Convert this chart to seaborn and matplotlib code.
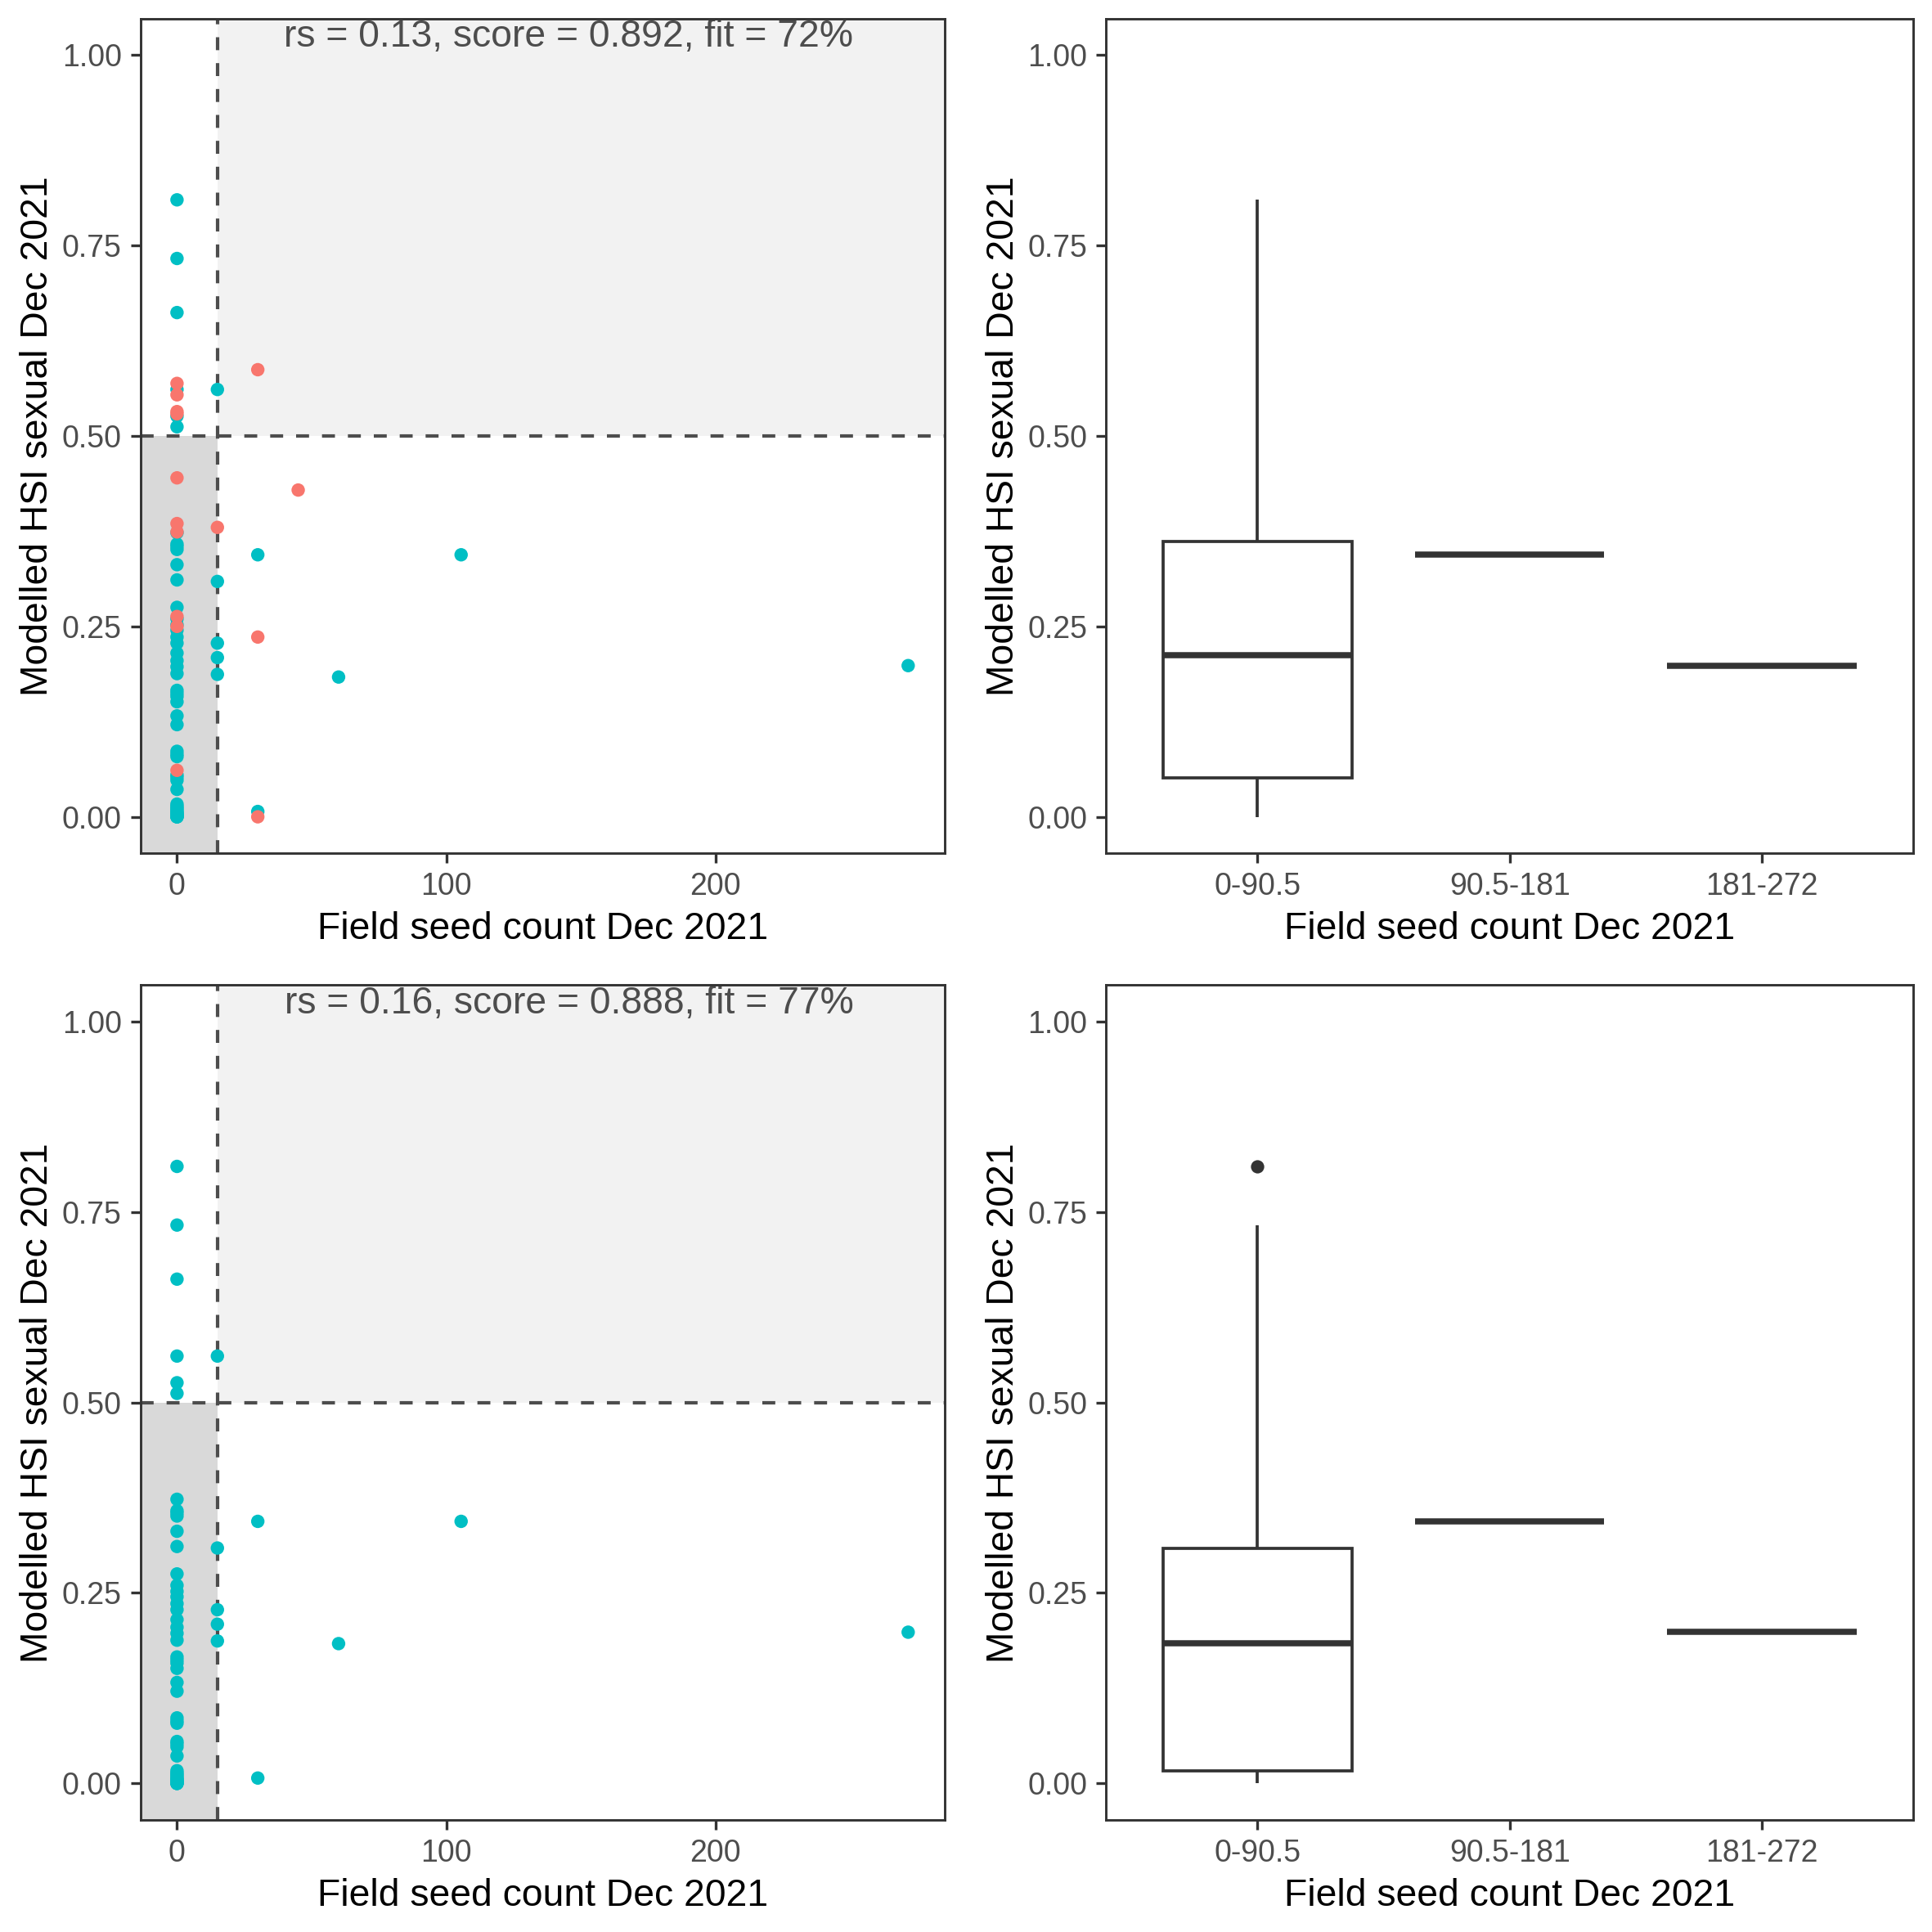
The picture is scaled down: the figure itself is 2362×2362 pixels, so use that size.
import numpy as np
import pandas as pd
import matplotlib
matplotlib.use("Agg")
import matplotlib.pyplot as plt
import seaborn as sns
from matplotlib.patches import Rectangle

# ---------------- data ----------------
# cyan points (present in both rows)
hsi_cyan_x0 = [0.81, 0.733, 0.662, 0.561, 0.526, 0.512,
               0.373, 0.358, 0.355, 0.351, 0.331, 0.311,
               0.275, 0.26, 0.252, 0.245, 0.236, 0.228, 0.215, 0.205, 0.197, 0.188,
               0.166, 0.162, 0.158, 0.151, 0.1325, 0.121, 0.086, 0.082, 0.079,
               0.055, 0.052, 0.048, 0.036,
               0.0167,
               0.014, 0.012, 0.01, 0.008, 0.006, 0.005, 0.004, 0.003, 0.002, 0.001,
               0.0, 0.0, 0.0]
seed_cyan = [0] * len(hsi_cyan_x0) + [15, 15, 15, 15, 15, 30, 30, 60, 105.5, 271.5]
hsi_cyan = hsi_cyan_x0 + [0.561, 0.309, 0.228, 0.209, 0.187, 0.344, 0.007, 0.1835, 0.344, 0.1985]

# red points (top row only)
seed_red = [0, 0, 0, 0, 0, 0, 0, 0, 0, 0, 15, 30, 30, 30, 45]
hsi_red = [0.569, 0.554, 0.532, 0.529, 0.445, 0.385, 0.374, 0.263, 0.25, 0.061,
           0.38, 0.587, 0.236, 0.0, 0.429]

bin_edges = [-1, 90.5, 181, 272]
bin_labels = ["0-90.5", "90.5-181", "181-272"]
seed_threshold = 15
hsi_threshold = 0.5
annotations = ["rs = 0.13, score = 0.892, fit = 72%",
               "rs = 0.16, score = 0.888, fit = 77%"]
x_ticks = [0, 100, 200]
y_ticks = [0.0, 0.25, 0.5, 0.75, 1.0]
xlabel = "Field seed count Dec 2021"
ylabel = "Modelled HSI sexual Dec 2021"
palette = {"cyan": "#00BFC4", "red": "#F8766D"}

df_top = pd.concat([
    pd.DataFrame({"seed": seed_cyan, "hsi": hsi_cyan, "grp": "cyan"}),
    pd.DataFrame({"seed": seed_red, "hsi": hsi_red, "grp": "red"}),
], ignore_index=True)
df_bot = pd.DataFrame({"seed": seed_cyan, "hsi": hsi_cyan, "grp": "cyan"})
for d in (df_top, df_bot):
    d["bin"] = pd.cut(d["seed"], bins=bin_edges, labels=bin_labels)

# ---------------- style ----------------
sns.set_style("white")
plt.rcParams["font.family"] = ["Liberation Sans", "DejaVu Sans"]

DPI = 300
fig = plt.figure(figsize=(2362 / DPI, 2362 / DPI), dpi=DPI)

YLIM = (-0.048, 1.048)
XLIM = (-13.575, 285.075)
TITLE_FS = 11.1
TICK_FS = 9.0
DARK = "#333333"
GREY30 = "#4D4D4D"


def style(ax):
    for s in ax.spines.values():
        s.set_visible(True)
        s.set_color(DARK)
        s.set_linewidth(0.7)
        s.set_zorder(5)
    ax.tick_params(axis="both", which="major", length=2.8, width=0.8, color=DARK,
                   labelcolor=GREY30, labelsize=TICK_FS, pad=2.7, direction="out",
                   bottom=True, left=True)
    ax.set_ylim(*YLIM)
    ax.set_yticks(y_ticks)
    ax.set_yticklabels([f"{v:.2f}" for v in y_ticks])
    ax.set_xlabel(xlabel, fontsize=TITLE_FS, color="black")
    ax.set_ylabel(ylabel, fontsize=TITLE_FS, color="black")
    ax.xaxis.set_label_coords(0.5, -0.1026)
    ax.xaxis.label.set_va("baseline")
    ax.yaxis.set_label_coords(-0.1155, 0.5)
    ax.yaxis.label.set_va("baseline")
    ax.grid(False)
    ax.set_facecolor("white")


left_x, left_w = 0.07269, 0.4163
right_x, right_w = 0.5726, 0.4177
rows_y = [0.5583, 0.0580]
row_h = 0.4321

for r, (df, ann) in enumerate(zip([df_top, df_bot], annotations)):
    # scatter panel
    ax = fig.add_axes([left_x, rows_y[r], left_w, row_h])
    ax.add_patch(Rectangle((XLIM[0], YLIM[0]), seed_threshold - XLIM[0], hsi_threshold - YLIM[0],
                           facecolor="#D9D9D9", edgecolor="none", zorder=0))
    ax.add_patch(Rectangle((seed_threshold, hsi_threshold), XLIM[1] - seed_threshold,
                           YLIM[1] - hsi_threshold, facecolor="#F2F2F2", edgecolor="none", zorder=0))
    ax.axvline(seed_threshold, color=GREY30, lw=1.0, linestyle=(0, (3.8, 3.8)), zorder=1)
    ax.axhline(hsi_threshold, color=GREY30, lw=1.0, linestyle=(0, (3.8, 3.8)), zorder=1)
    sns.scatterplot(data=df, x="seed", y="hsi", hue="grp", palette=palette, s=15.5,
                    linewidth=0, legend=False, ax=ax, zorder=3)
    ax.set_xlim(*XLIM)
    ax.set_xticks(x_ticks)
    ax.set_xticklabels([str(v) for v in x_ticks])
    style(ax)
    ax.text(145.5, 1.0107, ann, ha="center", va="baseline", fontsize=TITLE_FS,
            color=GREY30, zorder=4)

    # boxplot panel
    axb = fig.add_axes([right_x, rows_y[r], right_w, row_h])
    sns.boxplot(data=df, x="bin", y="hsi", order=bin_labels, ax=axb, width=0.75,
                color="white", linecolor=DARK, linewidth=0.9, showcaps=False,
                medianprops=dict(linewidth=1.8, color=DARK),
                flierprops=dict(marker="o", markersize=3.9, markerfacecolor=DARK,
                                markeredgecolor=DARK, markeredgewidth=0))
    axb.set_xlim(-0.6, 2.6)
    style(axb)

fig.savefig("out.png", dpi=DPI)
